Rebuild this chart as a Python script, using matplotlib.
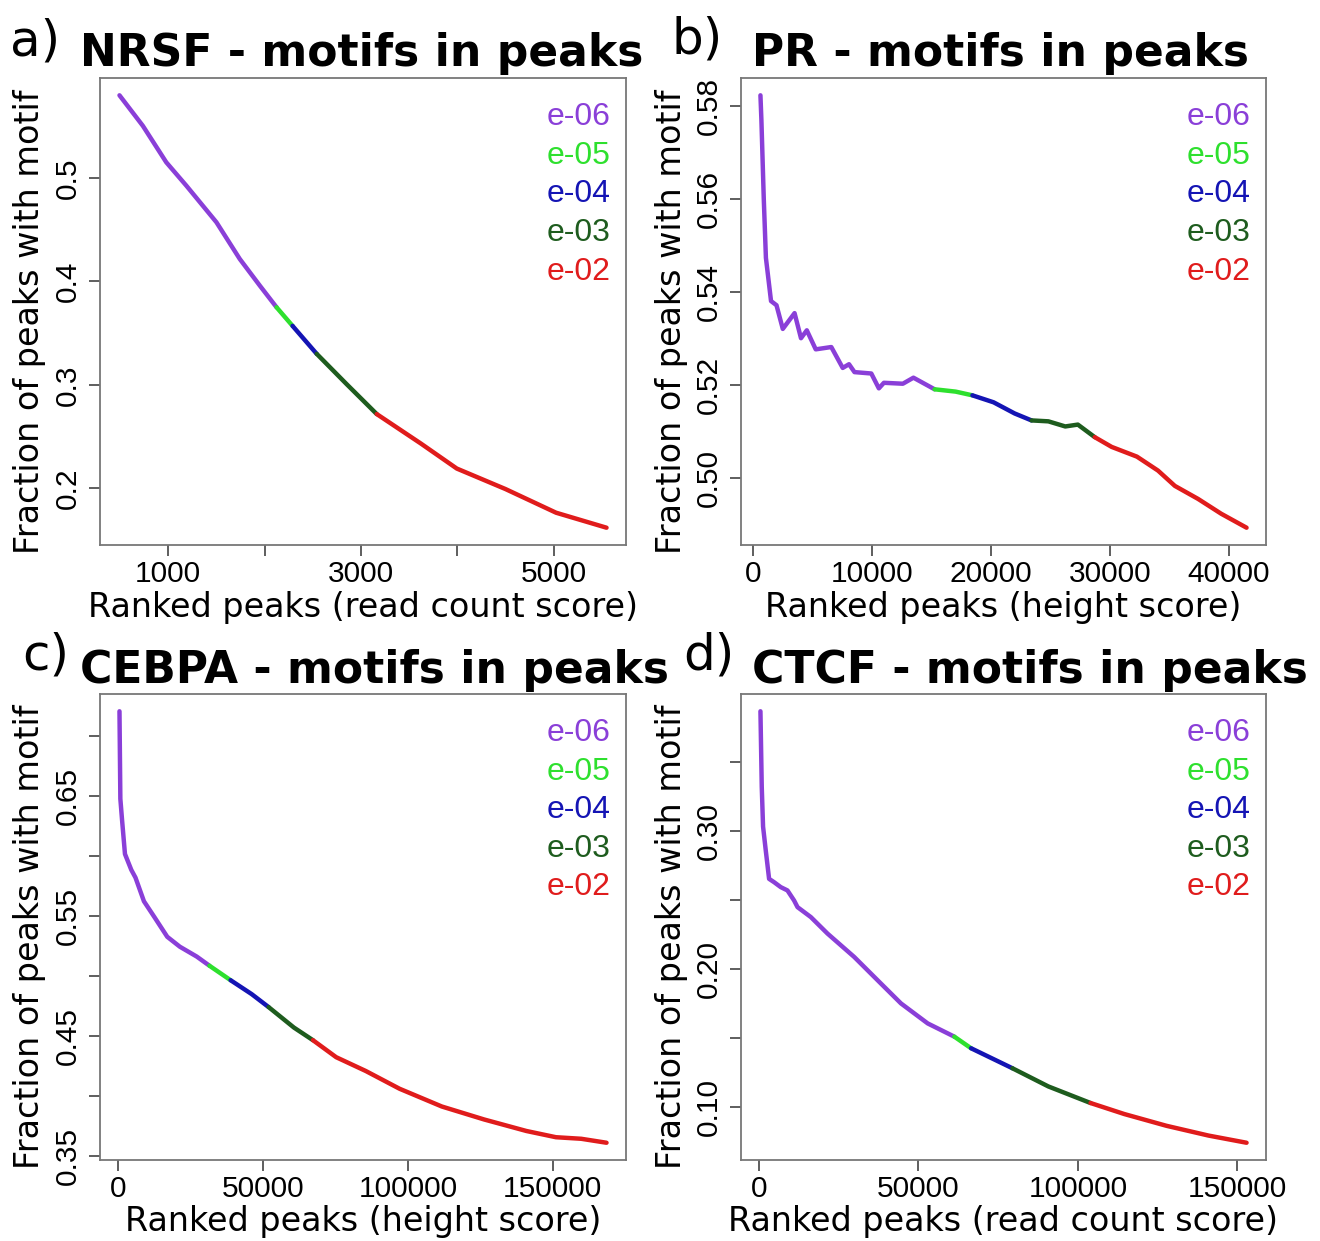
import numpy as np
import matplotlib
matplotlib.use("Agg")
import matplotlib.pyplot as plt

# NRSF, ranked by read count score
nrsf_x = [496, 738, 981, 1189, 1501, 1743, 1951, 2124, 2290, 2540, 2850, 3163, 3622, 3993, 4497, 5022, 5545]
nrsf_y = [0.580, 0.5505, 0.5152, 0.4926, 0.4572, 0.4217, 0.3959, 0.375, 0.357, 0.330, 0.3007, 0.2717,
          0.2431, 0.219, 0.1992, 0.1763, 0.1618]
nrsf_cuts = [2124, 2290, 2540, 3163]

# PR, ranked by height score
pr_x = [600, 680, 880, 1060, 1490, 1950, 2480, 3470, 4010, 4500, 5250, 6560, 7520, 8050, 8510,
        9925, 10560, 10985, 12580, 13470, 15250, 17020, 18430, 20210, 21980, 23400, 24820,
        26240, 27300, 28720, 30140, 32270, 34040, 35460, 37410, 39360, 41490]
pr_y = [0.5823, 0.577, 0.560, 0.5473, 0.538, 0.5371, 0.532, 0.5354, 0.530, 0.5317, 0.5276, 0.5281,
        0.5236, 0.5244, 0.5227, 0.5224, 0.5192, 0.5204, 0.5202, 0.5215, 0.519, 0.5185, 0.5177,
        0.5162, 0.5138, 0.5123, 0.5121, 0.5110, 0.5114, 0.5087, 0.5066, 0.5045, 0.5015, 0.4982,
        0.4954, 0.4922, 0.4892]
pr_cuts = [15250, 18430, 23400, 28720]

# CEBPA, ranked by height score
cebpa_x = [600, 900, 1500, 2490, 4670, 6120, 9030, 12670, 17060, 21420, 27230, 31600, 38900, 46170,
           52000, 60740, 67290, 75310, 85510, 97160, 111730, 126300, 140870, 151070, 159790, 168500]
cebpa_y = [0.721, 0.648, 0.630, 0.602, 0.5888, 0.5823, 0.5626, 0.5493, 0.533, 0.5247, 0.5165, 0.5089,
           0.4968, 0.4852, 0.4744, 0.4573, 0.4468, 0.4326, 0.4211, 0.4063, 0.3915, 0.3807, 0.3711,
           0.3659, 0.3646, 0.3613]
cebpa_cuts = [31600, 38900, 52000, 67290]

# CTCF, ranked by read count score
ctcf_x = [530, 940, 1350, 2200, 3240, 4800, 6900, 9000, 11080, 12150, 16320, 21560, 29910, 38290,
          44570, 52950, 61300, 66540, 79500, 90770, 103990, 114570, 127750, 140960, 152880]
ctcf_y = [0.3868, 0.332, 0.3032, 0.2858, 0.2653, 0.2629, 0.2593, 0.2569, 0.2496, 0.2448, 0.2376,
          0.2256, 0.2087, 0.1894, 0.175, 0.1605, 0.1509, 0.1425, 0.128, 0.1148, 0.1028, 0.0948,
          0.0863, 0.0792, 0.0740]
ctcf_cuts = [61300, 66540, 79500, 103990]

thresholds = ["e-06", "e-05", "e-04", "e-03", "e-02"]
colors = ["#8a3fd8", "#2ee02e", "#1414b4", "#1e5c1e", "#e01c1c"]

W, H = 1320, 1241
fig = plt.figure(figsize=(W / 100, H / 100), dpi=100)


def fx(px):
    return px / W


def fy(py):
    return 1 - py / H


def box(l, t, r, b):
    return [fx(l), fy(b), (r - l) / W, (b - t) / H]


panels = [
    dict(x=nrsf_x, y=nrsf_y, cuts=nrsf_cuts, rect=(100, 78, 626, 545), tag="a)", tag_pos=(10, 55),
         title="NRSF - motifs in peaks", title_pos=(80, 66), xlabel="Ranked peaks (read count score)",
         xticks=[1000, 2000, 3000, 4000, 5000], xlab=["1000", "", "3000", "", "5000"],
         yticks=[0.2, 0.3, 0.4, 0.5], ylab=["0.2", "0.3", "0.4", "0.5"]),
    dict(x=pr_x, y=pr_y, cuts=pr_cuts, rect=(741, 78, 1266, 545), tag="b)", tag_pos=(672, 53),
         title="PR - motifs in peaks", title_pos=(752, 66), xlabel="Ranked peaks (height score)",
         xticks=[0, 10000, 20000, 30000, 40000], xlab=["0", "10000", "20000", "30000", "40000"],
         yticks=[0.50, 0.52, 0.54, 0.56, 0.58], ylab=["0.50", "0.52", "0.54", "0.56", "0.58"]),
    dict(x=cebpa_x, y=cebpa_y, cuts=cebpa_cuts, rect=(100, 694, 626, 1160), tag="c)", tag_pos=(22, 669),
         title="CEBPA - motifs in peaks", title_pos=(80, 683), xlabel="Ranked peaks (height score)",
         xticks=[0, 50000, 100000, 150000], xlab=["0", "50000", "100000", "150000"],
         yticks=[0.35, 0.40, 0.45, 0.50, 0.55, 0.60, 0.65, 0.70],
         ylab=["0.35", "", "0.45", "", "0.55", "", "0.65", ""]),
    dict(x=ctcf_x, y=ctcf_y, cuts=ctcf_cuts, rect=(741, 694, 1266, 1160), tag="d)", tag_pos=(683, 669),
         title="CTCF - motifs in peaks", title_pos=(752, 683), xlabel="Ranked peaks (read count score)",
         xticks=[0, 50000, 100000, 150000], xlab=["0", "50000", "100000", "150000"],
         yticks=[0.10, 0.15, 0.20, 0.25, 0.30, 0.35], ylab=["0.10", "", "0.20", "", "0.30", ""]),
]

tick_font = "Liberation Sans"

for p in panels:
    l, t, r, b = p["rect"]
    ax = fig.add_axes(box(l, t, r, b))
    x = np.array(p["x"], dtype=float)
    y = np.array(p["y"], dtype=float)

    # one coloured stretch per p-value threshold, sharing the boundary points
    edges = [x[0]] + p["cuts"] + [x[-1]]
    for i, c in enumerate(colors):
        m = (x >= edges[i]) & (x <= edges[i + 1])
        ax.plot(x[m], y[m], color=c, lw=3.2, solid_capstyle="round", solid_joinstyle="round")

    ax.margins(x=0.04, y=0.04)
    ax.set_xticks(p["xticks"])
    ax.set_xticklabels(p["xlab"], fontfamily=tick_font, fontsize=21.5)
    ax.set_yticks(p["yticks"])
    ax.set_yticklabels(p["ylab"], fontfamily=tick_font, fontsize=21.5, rotation=90, va="center")
    ax.tick_params(axis="both", direction="out", length=8, width=1.1, color="#333333")
    ax.tick_params(axis="x", pad=3)
    ax.tick_params(axis="y", pad=5)
    for s in ax.spines.values():
        s.set_color("#777777")
        s.set_linewidth(1.3)

    for k, (lab, c) in enumerate(zip(thresholds, colors)):
        ax.text(0.970, 0.9165 - k * 0.0829, lab, transform=ax.transAxes, ha="right", va="center",
                color=c, fontsize=23, fontfamily=tick_font)

    fig.text(fx(p["tag_pos"][0]), fy(p["tag_pos"][1]), p["tag"], ha="left", va="baseline",
             fontsize=36, fontfamily="DejaVu Sans")
    fig.text(fx(p["title_pos"][0]), fy(p["title_pos"][1]), p["title"], ha="left", va="baseline",
             fontsize=31.7, fontweight="bold", fontfamily="DejaVu Sans")
    fig.text(fx((l + r) / 2), fy(b + 62), p["xlabel"], ha="center", va="center",
             fontsize=24, fontfamily="DejaVu Sans")
    fig.text(fx(l - 70), fy((t + b) / 2 + 10), "Fraction of peaks with motif", ha="center", va="center",
             rotation=90, fontsize=24, fontfamily="DejaVu Sans")

fig.savefig("out.png", dpi=100)
